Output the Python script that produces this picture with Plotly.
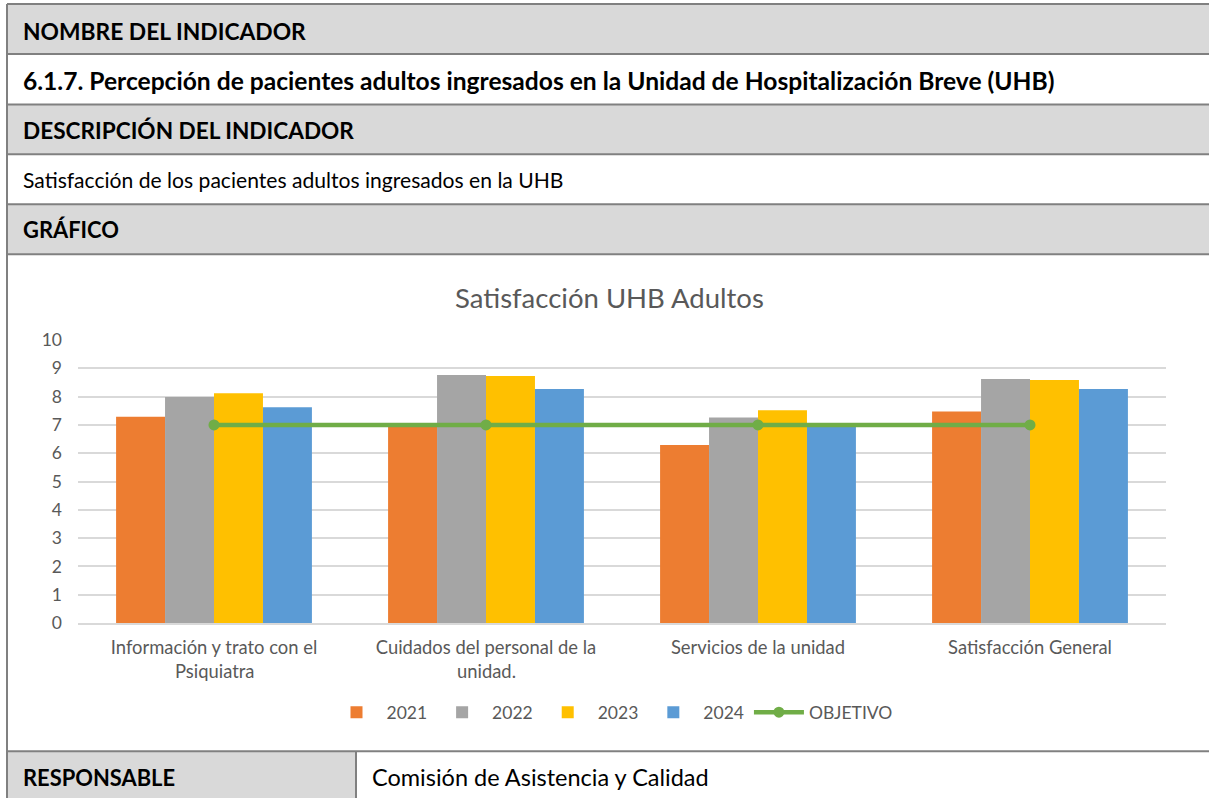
import plotly.graph_objects as go

# ---------------- data ----------------
categories = [
    "Información y trato con el\nPsiquiatra",
    "Cuidados del personal de la\nunidad.",
    "Servicios de la unidad",
    "Satisfacción General",
]
years = ["2021", "2022", "2023", "2024"]
values_2021 = [7.29, 6.95, 6.29, 7.47]
values_2022 = [7.99, 8.76, 7.26, 8.62]
values_2023 = [8.12, 8.73, 7.52, 8.59]
values_2024 = [7.62, 8.27, 6.96, 8.27]
objetivo = [7, 7, 7, 7]
y_ticks = [0, 1, 2, 3, 4, 5, 6, 7, 8, 9, 10]

series_values = [values_2021, values_2022, values_2023, values_2024]
colors = ["#ED7D31", "#A5A5A5", "#FFC000", "#5B9BD5"]
green = "#70AD47"
txt = "#595959"
FONT = "Lato, 'Open Sans', sans-serif"

# ---------------- geometry helpers (page pixels -> paper) ----------------
W, H = 1209, 798
PL, PR, PT, PB = 78, 1166, 340, 623.5


def px(x):
    return (x - PL) / (PR - PL)


def py(y):
    return (PB - y) / (PB - PT)


cat_keys = [c.split("\n")[0] for c in categories]

fig = go.Figure()
for yr, vals, col in zip(years, series_values, colors):
    fig.add_trace(go.Bar(x=cat_keys, y=vals, name=yr, marker=dict(color=col, line=dict(width=0))))
fig.add_trace(go.Scatter(x=cat_keys, y=objetivo, name="OBJETIVO", mode="lines+markers",
                         line=dict(color=green, width=4.5), marker=dict(color=green, size=11)))

shapes = []
row_edges = [3.5, 53.5, 104, 154, 204, 254]
for i in range(5):
    if i % 2 == 0:
        shapes.append(dict(type="rect", xref="paper", yref="paper", x0=px(7), x1=px(1215),
                           y0=py(row_edges[i]), y1=py(row_edges[i + 1]),
                           fillcolor="#D9D9D9", line=dict(width=0), layer="below"))
shapes.append(dict(type="rect", xref="paper", yref="paper", x0=px(7), x1=px(356),
                   y0=py(752), y1=py(805), fillcolor="#D9D9D9", line=dict(width=0), layer="below"))
border = dict(color="#808080", width=2)
for yy in row_edges + [752]:
    shapes.append(dict(type="line", xref="paper", yref="paper", x0=px(7), x1=px(1215),
                       y0=py(yy), y1=py(yy), line=border))
shapes.append(dict(type="line", xref="paper", yref="paper", x0=px(7), x1=px(7),
                   y0=py(3.5), y1=py(805), line=border))
shapes.append(dict(type="line", xref="paper", yref="paper", x0=px(356), x1=px(356),
                   y0=py(752), y1=py(805), line=border))

annotations = []
rows_text = [
    ("NOMBRE DEL INDICADOR", True, 30, 22.8),
    ("6.1.7. Percepción de pacientes adultos ingresados en la Unidad de Hospitalización Breve (UHB)", True, 80, 24.6),
    ("DESCRIPCIÓN DEL INDICADOR", True, 130, 22.6),
    ("Satisfacción de los pacientes adultos ingresados en la UHB", False, 179, 21.1),
    ("GRÁFICO", True, 229, 21.9),
]
for t, bold, yy, sz in rows_text:
    annotations.append(dict(text=f"<b>{t}</b>" if bold else t, xref="paper", yref="paper",
                            x=px(21), y=py(yy), xanchor="left", yanchor="middle", showarrow=False,
                            font=dict(family=FONT, size=sz, color="#000000")))
annotations.append(dict(text="<b>RESPONSABLE</b>", xref="paper", yref="paper", x=px(21), y=py(778),
                        xanchor="left", yanchor="middle", showarrow=False,
                        font=dict(family=FONT, size=21.9, color="#000000")))
annotations.append(dict(text="Comisión de Asistencia y Calidad", xref="paper", yref="paper", x=px(370), y=py(778),
                        xanchor="left", yanchor="middle", showarrow=False,
                        font=dict(family=FONT, size=23.5, color="#000000")))
annotations.append(dict(text="Satisfacción UHB Adultos", xref="paper", yref="paper", x=px(609), y=py(297),
                        xanchor="center", yanchor="middle", showarrow=False,
                        font=dict(family=FONT, size=27.5, color=txt)))
for key, full in zip(cat_keys, categories):
    parts = full.split("\n")
    if len(parts) > 1:
        annotations.append(dict(text=parts[1], xref="x", yref="paper", x=key, y=py(672),
                                xanchor="center", yanchor="middle", showarrow=False,
                                font=dict(family=FONT, size=18.4, color=txt)))

fig.update_layout(
    width=W, height=H,
    margin=dict(l=PL, r=W - PR, t=PT, b=H - PB, pad=0),
    paper_bgcolor="white", plot_bgcolor="white",
    barmode="group", bargap=0.28, bargroupgap=0,
    font=dict(family=FONT, color=txt, size=17),
    shapes=shapes, annotations=annotations,
    showlegend=True,
    legend=dict(orientation="h", x=px(612), xanchor="center", y=py(713), yanchor="middle",
                font=dict(family=FONT, size=17.5, color=txt), bgcolor="rgba(0,0,0,0)",
                itemwidth=50, tracegroupgap=0),
)
fig.update_xaxes(type="category", showgrid=False, showline=True, linecolor="#D9D9D9", linewidth=1.5,
                 ticks="", ticklabelstandoff=7, tickfont=dict(family=FONT, size=18.4, color=txt),
                 tickvals=cat_keys, ticktext=cat_keys, fixedrange=True)
fig.update_yaxes(range=[0, 10], tickvals=y_ticks, showgrid=True, gridcolor="#D9D9D9", gridwidth=1.5,
                 zeroline=False, showline=False, ticks="", ticklabelstandoff=15,
                 tickfont=dict(family=FONT, size=17.5, color=txt), fixedrange=True)

fig.write_html("out.html", config={"displayModeBar": False},
               post_script="document.body.style.margin='0';document.body.style.overflow='hidden';")
